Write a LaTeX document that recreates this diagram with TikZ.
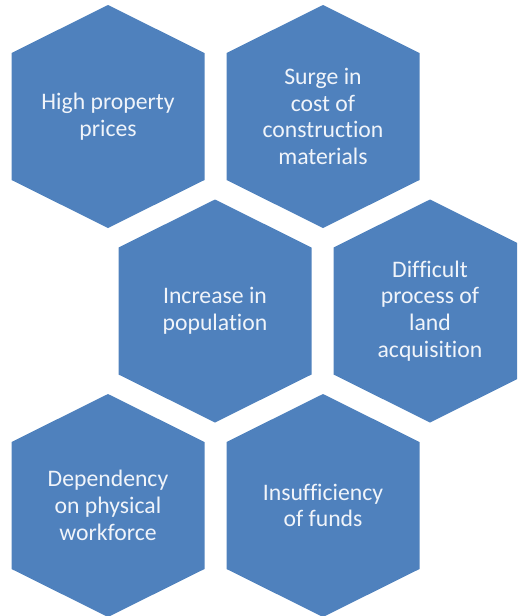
\documentclass[tikz,border=0pt]{standalone}
\usepackage{fontspec}
\setmainfont[Ligatures={NoCommon}]{Carlito}
\definecolor{hexblue}{RGB}{79,129,189}
\definecolor{hextext}{RGB}{240,244,250}
\begin{document}
\begin{tikzpicture}[x=1pt,y=-1pt,
  hexlabel/.style={text=hextext, align=center, font=\fontsize{23.7}{26.7}\selectfont, inner sep=0pt},
  hexfill/.style={fill=hexblue, draw=none}]
\useasboundingbox (0,0) rectangle (517,616);
\begin{scope}
\clip (0,0) rectangle (517,616);
\foreach \cx/\cy in {108/116.5, 323/116.5, 215/311, 430/311, 108/505.5, 323/505.5}{
  \fill[hexblue] (\cx,\cy-111.5) -- (\cx+96.5,\cy-63.5) -- (\cx+96.5,\cy+63.5)
    -- (\cx,\cy+111.5) -- (\cx-96.5,\cy+63.5) -- (\cx-96.5,\cy-63.5) -- cycle;
}
\end{scope}
\node[hexlabel] (h1) at (108,116.5) {High property\\prices};
\node[hexlabel] (h2) at (323,116.5) {Surge in\\cost of\\construction\\materials};
\node[hexlabel] (h3) at (215,311) {Increase in\\population};
\node[hexlabel] (h4) at (430,311) {Difficult\\process of\\land\\acquisition};
\node[hexlabel] (h5) at (108,505.5) {Dependency\\on physical\\workforce};
\node[hexlabel] (h6) at (323,505.5) {Insufficiency\\of funds};
\end{tikzpicture}
\end{document}
